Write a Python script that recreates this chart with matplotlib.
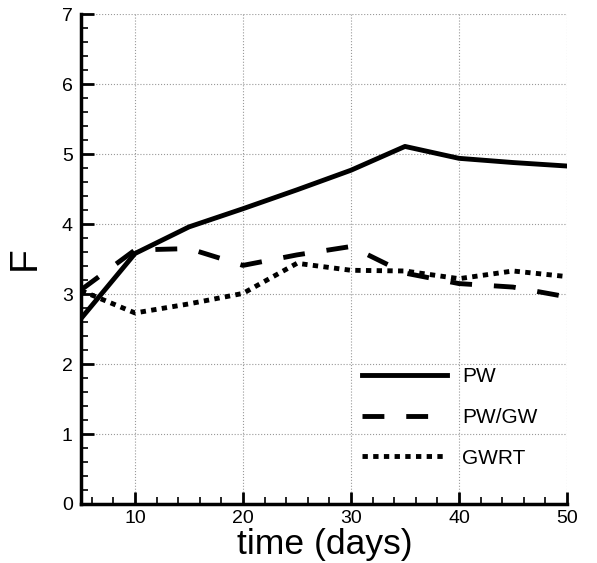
import numpy as np
import matplotlib
matplotlib.use('Agg')
import matplotlib.pyplot as plt
from matplotlib.ticker import MultipleLocator

plt.rcParams['font.family'] = ['Liberation Sans', 'DejaVu Sans']

days = [5, 10, 15, 20, 25, 30, 35, 40, 45, 50]
pw = [2.65, 3.58, 3.96, 4.22, 4.49, 4.77, 5.11, 4.94, 4.88, 4.83]
pw_gw = [3.06, 3.63, 3.65, 3.41, 3.56, 3.68, 3.30, 3.15, 3.10, 2.96]
gwrt = [3.05, 2.73, 2.86, 3.01, 3.44, 3.34, 3.33, 3.22, 3.33, 3.25]

fig = plt.figure(figsize=(5.97, 5.63), dpi=100)
ax = fig.add_axes([0.1357, 0.1048, 0.814, 0.870])

ax.plot(days, pw, color='black', lw=3.5, ls='-', label='PW')
ax.plot(days, pw_gw, color='black', lw=3.5, ls=(0, (4.5, 4.5)), label='PW/GW')
ax.plot(days, gwrt, color='black', lw=3.5, ls=(0, (1.1, 1.1)), label='GWRT')

ax.set_xlim(5, 50)
ax.set_ylim(0, 7)
ax.xaxis.set_major_locator(MultipleLocator(10))
ax.xaxis.set_minor_locator(MultipleLocator(2))
ax.yaxis.set_major_locator(MultipleLocator(1))
ax.yaxis.set_minor_locator(MultipleLocator(0.2))

ax.grid(True, which='major', ls=':', color='#999999', lw=0.8)

for s in ['top', 'right']:
    ax.spines[s].set_visible(False)
for s in ['left', 'bottom']:
    ax.spines[s].set_linewidth(2.5)

ax.tick_params(which='major', direction='in', length=9, width=2, labelsize=14, pad=6)
ax.tick_params(which='minor', direction='in', length=5, width=1.2)
ax.tick_params(axis='x', which='major', pad=4.5)

ax.set_xlabel('time (days)', fontsize=25.5)
ax.xaxis.set_label_coords(0.502, -0.050)
ax.set_ylabel('F', fontsize=28)
ax.yaxis.set_label_coords(-0.078, 0.502)

ax.legend(frameon=False, loc='center left', bbox_to_anchor=(0.578, 0.177),
          fontsize=15, handlelength=4.1, labelspacing=1.05, handletextpad=0.7,
          borderpad=0, borderaxespad=0)

fig.savefig('out.png', dpi=100)
